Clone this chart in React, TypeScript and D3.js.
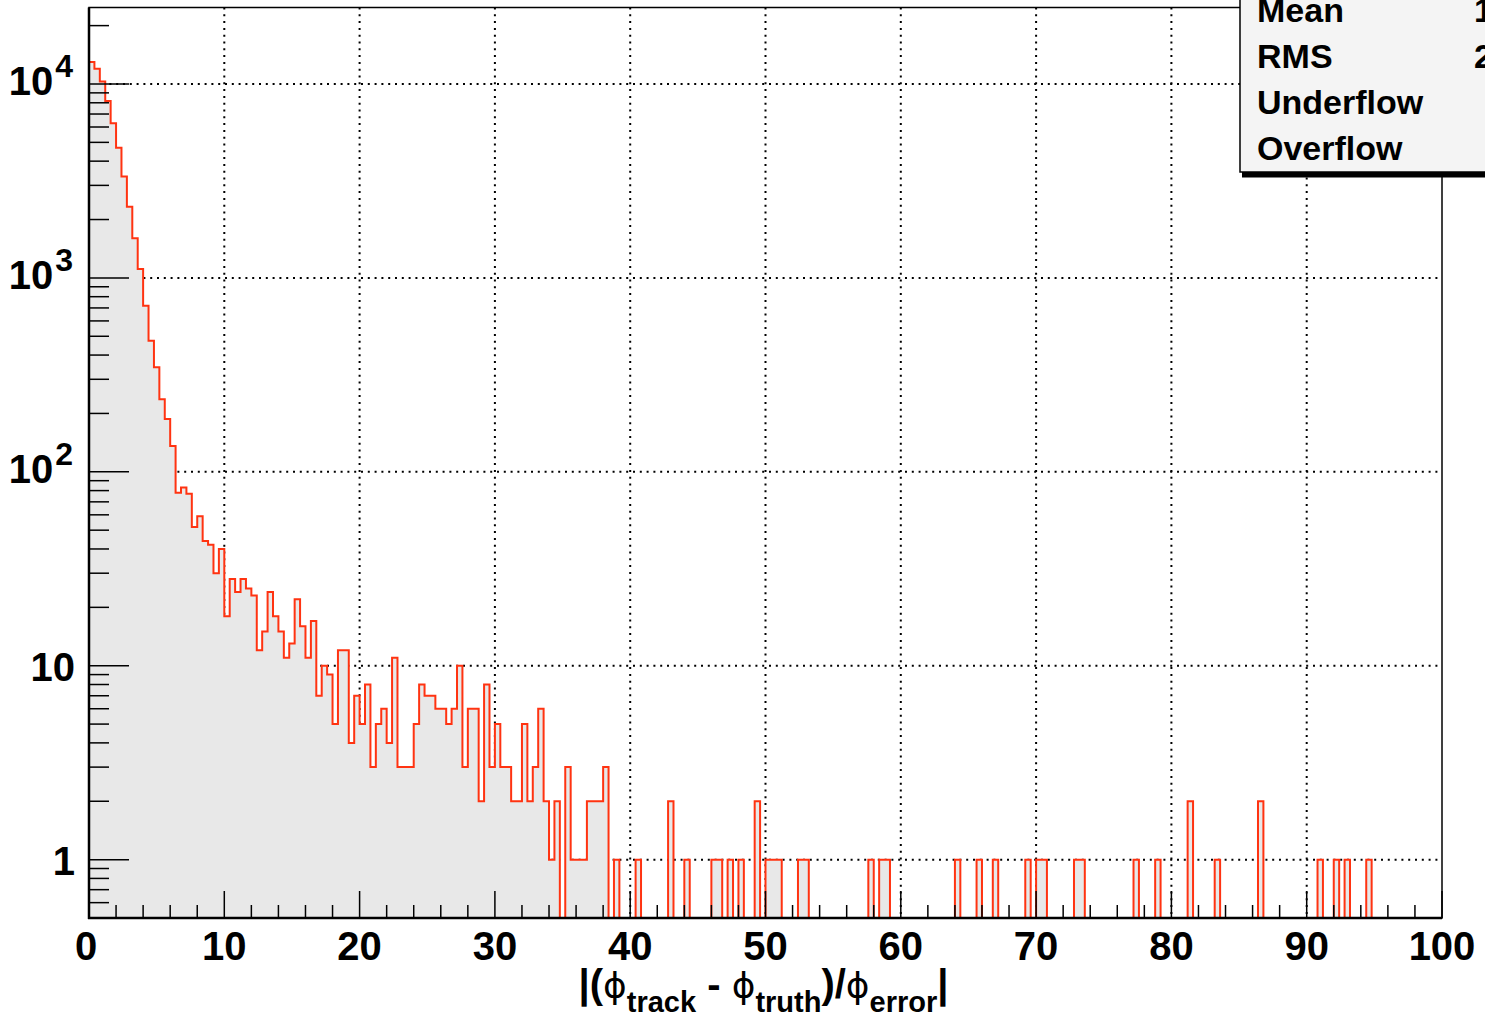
import React, { useRef, useEffect } from 'react';
import * as d3 from 'd3';

// histogram: 250 bins of width 0.4 between 0 and 100
const BIN_WIDTH = 0.4;
const N_BINS = 250;

// bins 0..97
const coreCounts = [
  13000, 12000, 10300, 8170, 6270, 4690, 3330, 2330, 1600, 1110,
  719, 474, 346, 237, 187, 136, 78, 83, 77, 52,
  59, 44, 42, 30, 40, 18, 28, 24, 28, 25,
  23, 12, 15, 24, 18, 15, 11, 13, 22, 16,
  11, 17, 7, 10, 9, 5, 12, 12, 4, 7,
  5, 8, 3, 5, 6, 4, 11, 3, 3, 3,
  5, 8, 7, 7, 6, 6, 5, 6, 10, 3,
  6, 6, 2, 8, 3, 5, 3, 3, 2, 2,
  5, 2, 3, 6, 2, 1, 2, 0, 3, 1,
  1, 1, 2, 2, 2, 3, 0, 1,
];

// sparse tail: non-empty bins after bin 97
const tailBins = [
  101, 107, 110, 115, 116, 118, 120, 123, 125, 126, 127, 131, 132,
  144, 146, 147, 160, 164, 167, 173, 175, 176, 182, 183,
  193, 197, 203, 208, 216, 227, 230, 232, 236,
];
const tailCounts = [
  1, 2, 1, 1, 1, 1, 1, 2, 1, 1, 1, 1, 1,
  1, 1, 1, 1, 1, 1, 1, 1, 1, 1, 1,
  1, 1, 2, 1, 2, 1, 1, 1, 1,
];

const xTickLabels = [0, 10, 20, 30, 40, 50, 60, 70, 80, 90, 100];
const yDecades = [1, 10, 100, 1000, 10000];
const statsLabels = ['Mean', 'RMS', 'Underflow', 'Overflow'];
const statsValues = ['1', '2']; // only the first digit is inside the picture

const FONT = "'Liberation Sans', Arial, Helvetica, sans-serif";

export default function App() {
  const ref = useRef<SVGSVGElement>(null);

  useEffect(() => {
    document.body.style.margin = '0';
    document.body.style.overflow = 'hidden';
    const svg = d3.select(ref.current);
    svg.selectAll('*').remove();

    const left = 89, right = 1442, top = 7.5, bottom = 918;
    const x = d3.scaleLinear().domain([0, 100]).range([left, right]);
    const y = d3.scaleLog().domain([0.5, 24800]).range([bottom, top]);

    const counts = d3.range(N_BINS).map(i => (i < coreCounts.length ? coreCounts[i] : 0));
    tailBins.forEach((b, k) => { counts[b] = tailCounts[k]; });
    const yv = (c: number) => (c > 0 ? y(c) : bottom);

    const steps = counts.map((c, i) => ({ e: i * BIN_WIDTH, c }));
    steps.push({ e: N_BINS * BIN_WIDTH, c: counts[N_BINS - 1] });

    svg.append('rect').attr('width', 1485).attr('height', 1018).attr('fill', '#fff');

    // grid
    const grid = svg.append('g')
      .attr('stroke', '#000')
      .attr('stroke-width', 2)
      .attr('stroke-dasharray', '2 4.8');
    grid.selectAll('.gx')
      .data(xTickLabels.filter(v => v > 0 && v < 100))
      .join('line')
        .attr('x1', d => x(d)).attr('x2', d => x(d))
        .attr('y1', top).attr('y2', bottom);
    grid.selectAll('.gy')
      .data(yDecades)
      .join('line')
        .attr('x1', left).attr('x2', right)
        .attr('y1', d => y(d)).attr('y2', d => y(d));

    // filled histogram
    const area = d3.area<{ e: number; c: number }>()
      .x(d => x(d.e))
      .y0(bottom)
      .y1(d => yv(d.c))
      .curve(d3.curveStepAfter);
    svg.append('path')
      .attr('d', area(steps))
      .attr('fill', '#e8e8e8');

    const line = d3.line<{ e: number; c: number }>()
      .x(d => x(d.e))
      .y(d => yv(d.c))
      .curve(d3.curveStepAfter);
    svg.append('path')
      .attr('d', line(steps))
      .attr('fill', 'none')
      .attr('stroke', '#ff3311')
      .attr('stroke-width', 2);

    // frame
    svg.append('rect')
      .attr('x', left).attr('y', top)
      .attr('width', right - left).attr('height', bottom - top)
      .attr('fill', 'none').attr('stroke', '#000').attr('stroke-width', 1.5);
    svg.append('line')
      .attr('x1', left).attr('x2', left).attr('y1', top).attr('y2', bottom + 1)
      .attr('stroke', '#000').attr('stroke-width', 2.5);
    svg.append('line')
      .attr('x1', left - 1).attr('x2', right).attr('y1', bottom).attr('y2', bottom)
      .attr('stroke', '#000').attr('stroke-width', 2.5);

    // x ticks: minor every 2, major every 10
    svg.append('g')
      .attr('stroke', '#000').attr('stroke-width', 1.5)
      .selectAll('line')
      .data(d3.range(0, 101, 2))
      .join('line')
        .attr('x1', d => x(d)).attr('x2', d => x(d))
        .attr('y1', bottom)
        .attr('y2', d => bottom - (d % 10 === 0 ? 27 : 13));

    // y ticks: 2..9 minor, decades major
    const yTickVals: number[] = [];
    for (let e = -1; e <= 4; e++) {
      for (let m = 1; m <= 9; m++) {
        const v = m * Math.pow(10, e);
        if (v > 0.5 && v < 24800) yTickVals.push(v);
      }
    }
    svg.append('g')
      .attr('stroke', '#000').attr('stroke-width', 1.5)
      .selectAll('line')
      .data(yTickVals)
      .join('line')
        .attr('x1', left)
        .attr('x2', d => left + (Math.abs(Math.log10(d) - Math.round(Math.log10(d))) < 1e-9 ? 40 : 20))
        .attr('y1', d => y(d)).attr('y2', d => y(d));

    // x tick labels
    svg.append('g')
      .attr('font-family', FONT).attr('font-weight', 'bold').attr('font-size', 40)
      .attr('text-anchor', 'middle')
      .selectAll('text')
      .data(xTickLabels)
      .join('text')
        .attr('x', d => x(d) - (d === 0 ? 3 : 0))
        .attr('y', 960)
        .text(d => String(d));

    // y tick labels
    const yl = svg.append('g')
      .attr('font-family', FONT).attr('font-weight', 'bold')
      .attr('text-anchor', 'end');
    yDecades.forEach(v => {
      const exp = Math.round(Math.log10(v));
      if (exp <= 1) {
        yl.append('text')
          .attr('x', 75).attr('y', y(v) + 15)
          .attr('font-size', 40)
          .text(String(v));
      } else {
        const t = yl.append('text').attr('x', 73).attr('y', y(v) + 11).attr('font-size', 40);
        t.append('tspan').text('10');
        t.append('tspan').attr('dy', -18).attr('dx', 2).attr('font-size', 32).text(String(exp));
      }
    });

    // axis title
    const title = svg.append('text')
      .attr('x', (left + right) / 2 - 2).attr('y', 998)
      .attr('text-anchor', 'middle')
      .attr('font-family', FONT).attr('font-weight', 'bold').attr('font-size', 40);
    const phi = (sel: any) => sel.append('tspan')
      .attr('font-family', "'DejaVu Sans', sans-serif").attr('font-weight', 'normal').attr('font-size', 36)
      .text('\u03D5');
    title.append('tspan').text('|(');
    phi(title);
    title.append('tspan').attr('dy', 14).attr('font-size', 29).text('track');
    title.append('tspan').attr('dy', -14).text(' - ');
    phi(title);
    title.append('tspan').attr('dy', 14).attr('font-size', 29).text('truth');
    title.append('tspan').attr('dy', -14).text(')/');
    phi(title);
    title.append('tspan').attr('dy', 14).attr('font-size', 29).text('error');
    title.append('tspan').attr('dy', -14).text('|');

    // stats box (cut by the page edge)
    const sb = svg.append('g');
    sb.append('rect')
      .attr('x', 1242).attr('y', 172).attr('width', 260).attr('height', 5.5)
      .attr('fill', '#000');
    sb.append('rect')
      .attr('x', 1240).attr('y', -10).attr('width', 270).attr('height', 182)
      .attr('fill', '#f4f4f4').attr('stroke', '#000').attr('stroke-width', 1.5);
    sb.selectAll('.sl')
      .data(statsLabels)
      .join('text')
        .attr('x', 1257).attr('y', (_, i) => 22 + i * 46)
        .attr('font-family', FONT).attr('font-weight', 'bold').attr('font-size', 34)
        .text(d => d);
    sb.selectAll('.sv')
      .data(statsValues)
      .join('text')
        .attr('x', 1474).attr('y', (_, i) => 22 + i * 46)
        .attr('font-family', FONT).attr('font-weight', 'bold').attr('font-size', 34)
        .text(d => d);
  }, []);

  return <svg ref={ref} width={1485} height={1018} style={{ display: 'block' }} />;
}
